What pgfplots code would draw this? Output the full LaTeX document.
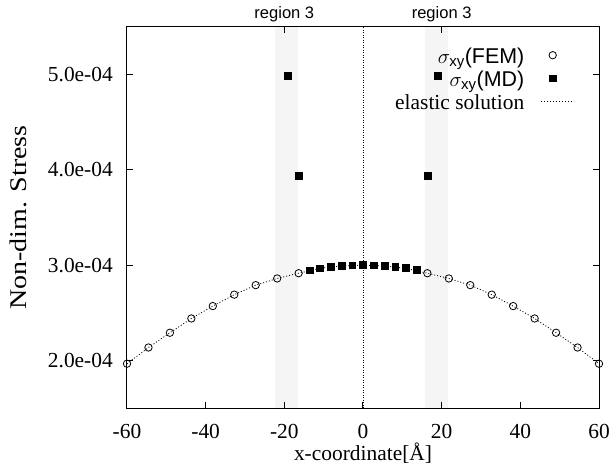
\documentclass[border=0pt]{standalone}
\usepackage{amsmath}
\usepackage{graphicx}
\usepackage{fontspec}
\setmainfont{Liberation Serif}
\setsansfont{Liberation Sans}
\usepackage{pgfplots}
\usepackage{pgfplotstable}
\pgfplotsset{compat=1.18}

\pgfplotsset{
  markimg/.style={legend image code/.code={\path (0bp,3bp) (33bp,3bp); \draw[##1] plot coordinates {(11.3bp,3bp)};}},
  lineimg/.style={legend image code/.code={\draw[##1] (0bp,3bp) -- (33bp,3bp);}},
}

\pgfplotstableread{
x y
-60 1.965e-4
-54.545 2.135e-4
-49.091 2.29e-4
-43.636 2.44e-4
-38.182 2.57e-4
-32.727 2.69e-4
-27.273 2.79e-4
-21.818 2.86e-4
-16.364 2.915e-4
16.364 2.915e-4
21.818 2.86e-4
27.273 2.79e-4
32.727 2.69e-4
38.182 2.57e-4
43.636 2.44e-4
49.091 2.29e-4
54.545 2.135e-4
60 1.965e-4
}\femtable

\pgfplotstableread{
x y
-19.091 4.99e-4
-16.364 3.94e-4
-13.636 2.947e-4
-10.909 2.968e-4
-8.182 2.982e-4
-5.455 2.992e-4
-2.727 2.999e-4
0 3.002e-4
2.727 2.999e-4
5.455 2.992e-4
8.182 2.985e-4
10.909 2.975e-4
13.636 2.95e-4
16.364 3.94e-4
19.091 4.99e-4
}\mdtable

\pgfplotstableread{
x y
-60 1.965e-4
-54.545 2.135e-4
-49.091 2.29e-4
-43.636 2.44e-4
-38.182 2.57e-4
-32.727 2.69e-4
-27.273 2.79e-4
-21.818 2.86e-4
-16.364 2.915e-4
-10.909 2.966e-4
-5.455 2.991e-4
0 3.0e-4
5.455 2.991e-4
10.909 2.966e-4
16.364 2.915e-4
21.818 2.86e-4
27.273 2.79e-4
32.727 2.69e-4
38.182 2.57e-4
43.636 2.44e-4
49.091 2.29e-4
54.545 2.135e-4
60 1.965e-4
}\elastictable

\begin{document}
\begin{tikzpicture}
\useasboundingbox (-127bp,-57bp) rectangle (482bp,408bp);
\begin{axis}[
  at={(0,0)}, anchor=south west,
  scale only axis, width=472bp, height=381bp,
  xmin=-60, xmax=60, ymin=1.5e-4, ymax=5.5e-4,
  axis on top,
  scaled y ticks=false, scaled x ticks=false,
  /pgf/number format/assume math mode=true,
  xtick={-60,-40,-20,0,20,40,60},
  xticklabels={-60,-40,-20,0,20,40,60},
  ytick={2e-4,3e-4,4e-4,5e-4},
  yticklabels={2.0e-04,3.0e-04,4.0e-04,5.0e-04},
  xtick pos=left, ytick pos=both, yticklabel pos=left,
  tick align=inside, major tick length=6bp,
  every tick/.style={black, line width=1bp},
  axis line style={line width=1bp},
  tick label style={font=\fontsize{21.5}{25}\selectfont},
  xticklabel style={anchor=center, yshift=-23bp},
  yticklabel style={anchor=east, inner sep=0pt, xshift=-14bp},
  xlabel={x-coordinate[Å]},
  ylabel={\scalebox{1.17}[1]{Non-dim. Stress}},
  xlabel style={font=\fontsize{21.5}{25}\selectfont, at={(axis description cs:0.5,-0.118)}, anchor=center},
  ylabel style={font=\fontsize{24}{28}\selectfont, at={(axis description cs:-0.230,0.5)}, anchor=center},
  legend cell align=right, legend plot pos=right,
  legend style={draw=none, fill=none, at={(axis description cs:1,1)}, anchor=north east,
    xshift=-24bp, yshift=-19.5bp, inner sep=0pt, column sep=16.7bp, row sep=0pt,
    font=\fontsize{21.5}{23}\selectfont,
    nodes={inner xsep=0pt, inner ysep=1.5bp, text height=15bp, text depth=5bp}},
]
\addplot[forget plot, fill=black!4, draw=none] coordinates {(-22.4,1.5e-4) (-16.6,1.5e-4) (-16.6,5.5e-4) (-22.4,5.5e-4)} -- cycle;
\addplot[forget plot, fill=black!4, draw=none] coordinates {(15.8,1.5e-4) (21.5,1.5e-4) (21.5,5.5e-4) (15.8,5.5e-4)} -- cycle;
\addplot[forget plot, black, line width=0.6bp, dash pattern=on 1bp off 1.5bp] coordinates {(0,1.5e-4) (0,5.5e-4)};

\addplot[only marks, mark=o, mark size=3.7bp, black, mark options={line width=0.8bp}, markimg]
  table[x=x,y=y] {\femtable};
\addlegendentry{\textsf{$\sigma_{\textsf{xy}}$(FEM)}}

\addplot[only marks, mark=square*, mark size=3.4bp, black, markimg]
  table[x=x,y=y] {\mdtable};
\addlegendentry{\textsf{$\sigma_{\textsf{xy}}$(MD)}}

\addplot[black, line width=0.8bp, dash pattern=on 1bp off 2bp, no marks, lineimg]
  table[x=x,y=y] {\elastictable};
\addlegendentry{elastic solution}
\end{axis}

\begin{axis}[
  at={(0,0)}, anchor=south west,
  scale only axis, width=472bp, height=381bp,
  xmin=-60, xmax=60, ymin=0, ymax=1,
  axis x line*=top, hide y axis,
  xtick={-20,20}, xticklabels={region 3,region 3},
  tick align=inside, major tick length=6bp,
  every tick/.style={black, line width=1bp},
  axis line style={line width=1bp, -},
  xticklabel style={font=\sffamily\fontsize{16.6}{20}\selectfont, anchor=center, yshift=12.5bp},
]
\end{axis}
\end{tikzpicture}
\end{document}
